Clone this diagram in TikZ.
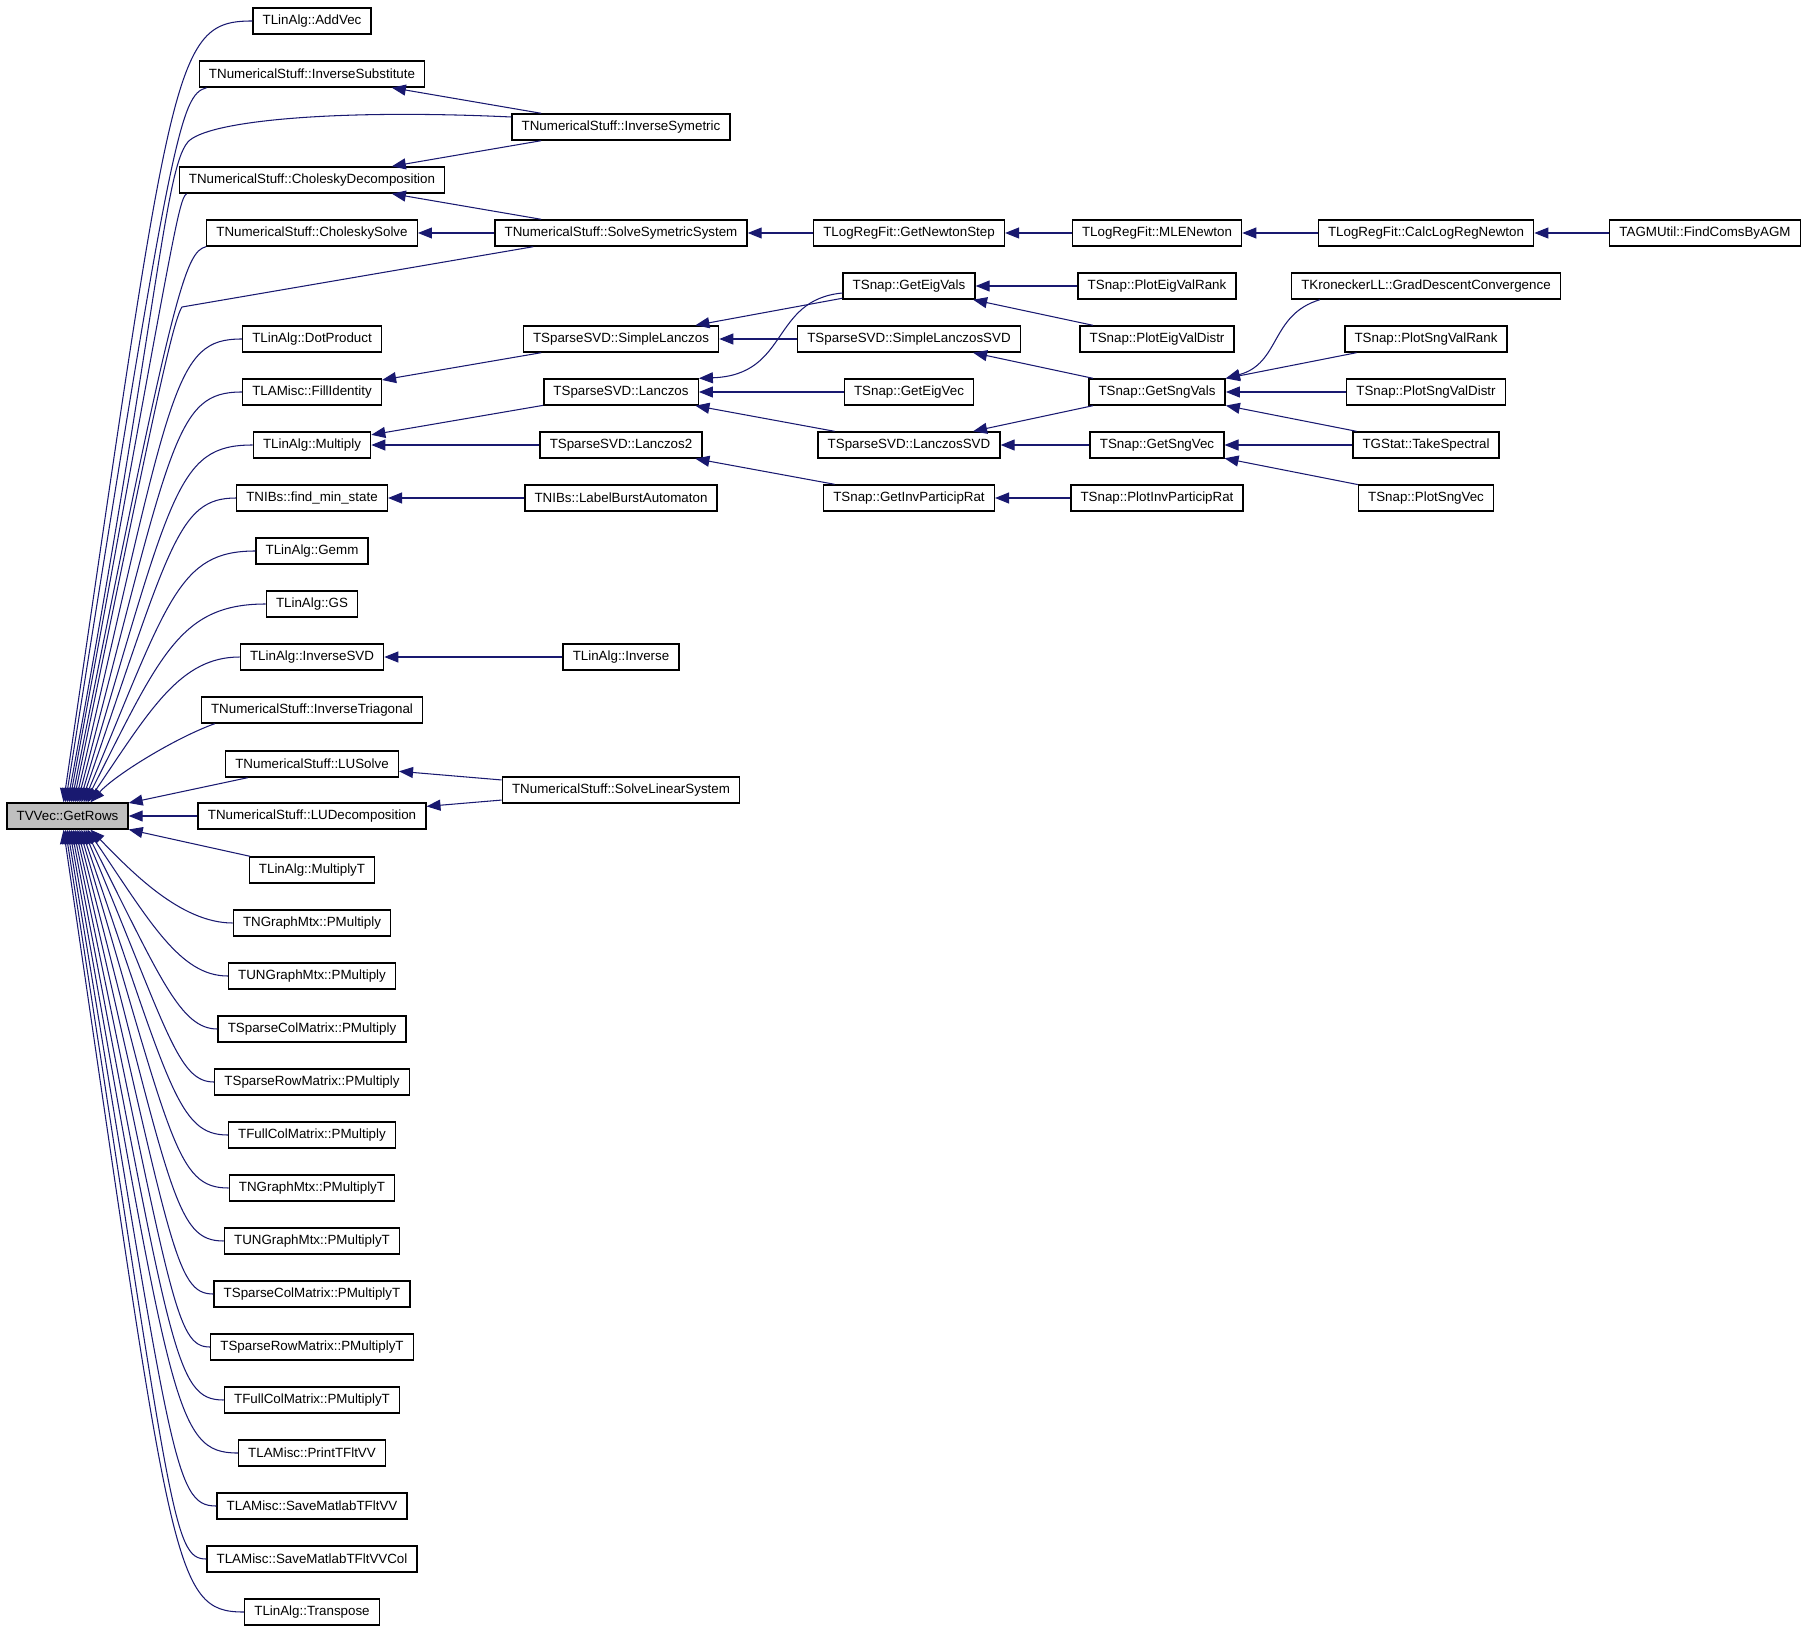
\documentclass[tikz,border=0pt]{standalone}
\usepackage{tikz}
\usepackage{fontspec}
\setmainfont{Liberation Sans}
\definecolor{edgeblue}{RGB}{25,25,112}
\definecolor{hlgray}{RGB}{191,191,191}
\usetikzlibrary{arrows.meta,calc}
\tikzset{
  fn/.style={rectangle,draw=black,fill=white,line width=0.8pt,
             inner xsep=5.5pt,inner ysep=0pt,minimum height=0.52cm,
             font=\fontsize{7.6}{9}\selectfont},
  hl/.style={fn,fill=hlgray},
  call/.style={-{Triangle[length=0.28cm,width=0.22cm]},draw=edgeblue,
               line width=0.6pt},
}
\begin{document}
\begin{tikzpicture}[x=0.02cm,y=-0.02cm]
\useasboundingbox (0,0) rectangle (1808,1635);

\node[hl] (getrows) at (67.5,816) {TVVec::GetRows};

\node[fn] (addvec) at (312,21) {TLinAlg::AddVec};
\node[fn] (invsubst) at (312,74) {TNumericalStuff::InverseSubstitute};
\node[fn] (choldecomp) at (312,180) {TNumericalStuff::CholeskyDecomposition};
\node[fn] (cholsolve) at (312,233) {TNumericalStuff::CholeskySolve};
\node[fn] (dotproduct) at (312,339) {TLinAlg::DotProduct};
\node[fn] (fillidentity) at (312,392) {TLAMisc::FillIdentity};
\node[fn] (multiply) at (312,445) {TLinAlg::Multiply};
\node[fn] (findminstate) at (312,498) {TNIBs::find\_min\_state};
\node[fn] (gemm) at (312,551) {TLinAlg::Gemm};
\node[fn] (gs) at (312,604) {TLinAlg::GS};
\node[fn] (inversesvd) at (312,657) {TLinAlg::InverseSVD};
\node[fn] (invtriag) at (312,710) {TNumericalStuff::InverseTriagonal};
\node[fn] (lusolve) at (312,764) {TNumericalStuff::LUSolve};
\node[fn] (ludecomp) at (312,816) {TNumericalStuff::LUDecomposition};
\node[fn] (multiplyt) at (312,870) {TLinAlg::MultiplyT};
\node[fn] (ngpmul) at (312,923) {TNGraphMtx::PMultiply};
\node[fn] (ungpmul) at (312,976) {TUNGraphMtx::PMultiply};
\node[fn] (spcpmul) at (312,1029) {TSparseColMatrix::PMultiply};
\node[fn] (sprpmul) at (312,1082) {TSparseRowMatrix::PMultiply};
\node[fn] (fcpmul) at (312,1135) {TFullColMatrix::PMultiply};
\node[fn] (ngpmult) at (312,1188) {TNGraphMtx::PMultiplyT};
\node[fn] (ungpmult) at (312,1241) {TUNGraphMtx::PMultiplyT};
\node[fn] (spcpmult) at (312,1294) {TSparseColMatrix::PMultiplyT};
\node[fn] (sprpmult) at (312,1347) {TSparseRowMatrix::PMultiplyT};
\node[fn] (fcpmult) at (312,1400) {TFullColMatrix::PMultiplyT};
\node[fn] (printvv) at (312,1453) {TLAMisc::PrintTFltVV};
\node[fn] (savevv) at (312,1506) {TLAMisc::SaveMatlabTFltVV};
\node[fn] (savevvcol) at (312,1559) {TLAMisc::SaveMatlabTFltVVCol};
\node[fn] (transpose) at (312,1612) {TLinAlg::Transpose};

\node[fn] (invsym) at (621,127) {TNumericalStuff::InverseSymetric};
\node[fn] (solvesym) at (621,233) {TNumericalStuff::SolveSymetricSystem};
\node[fn] (simplelanczos) at (621,339) {TSparseSVD::SimpleLanczos};
\node[fn] (lanczos) at (621,392) {TSparseSVD::Lanczos};
\node[fn] (lanczos2) at (621,445) {TSparseSVD::Lanczos2};
\node[fn] (labelburst) at (621,498) {TNIBs::LabelBurstAutomaton};
\node[fn] (inverse) at (621,657) {TLinAlg::Inverse};
\node[fn] (solvelin) at (621,790) {TNumericalStuff::SolveLinearSystem};

\node[fn] (newtonstep) at (909,233) {TLogRegFit::GetNewtonStep};
\node[fn] (geteigvals) at (909,286) {TSnap::GetEigVals};
\node[fn] (simplelanczossvd) at (909,339) {TSparseSVD::SimpleLanczosSVD};
\node[fn] (geteigvec) at (909,392) {TSnap::GetEigVec};
\node[fn] (lanczossvd) at (909,445) {TSparseSVD::LanczosSVD};
\node[fn] (getinvpr) at (909,498) {TSnap::GetInvParticipRat};

\node[fn] (mlenewton) at (1157,233) {TLogRegFit::MLENewton};
\node[fn] (ploteigrank) at (1157,286) {TSnap::PlotEigValRank};
\node[fn] (ploteigdistr) at (1157,339) {TSnap::PlotEigValDistr};
\node[fn] (getsngvals) at (1157,392) {TSnap::GetSngVals};
\node[fn] (getsngvec) at (1157,445) {TSnap::GetSngVec};
\node[fn] (plotinvpr) at (1157,498) {TSnap::PlotInvParticipRat};

\node[fn] (calclogreg) at (1426,233) {TLogRegFit::CalcLogRegNewton};
\node[fn] (graddescent) at (1426,286) {TKroneckerLL::GradDescentConvergence};
\node[fn] (plotsngrank) at (1426,339) {TSnap::PlotSngValRank};
\node[fn] (plotsngdistr) at (1426,392) {TSnap::PlotSngValDistr};
\node[fn] (takespectral) at (1426,445) {TGStat::TakeSpectral};
\node[fn] (plotsngvec) at (1426,498) {TSnap::PlotSngVec};

\node[fn] (findcoms) at (1705,233) {TAGMUtil::FindComsByAGM};

\draw[call] (addvec.west) .. controls (172,21) and (172,62) .. ($(getrows.north)+(-4,0)$);
\draw[call] ($(invsubst.south west)+(8,0)$) .. controls (180,95) and (172,130) .. ($(getrows.north)+(-2,0)$);
\draw[call] ($(invsym.west)+(0,-10)$) .. controls (341,109) and (215,120) .. (190,140) .. controls (165,160) and (160,301) .. (getrows.north);
\draw[call] ($(choldecomp.south west)+(8,0)$) .. controls (178,200) and (173,240) .. ($(getrows.north)+(2,0)$);
\draw[call] (cholsolve.south west) .. controls (185,252) and (173,290) .. ($(getrows.north)+(4,0)$);
\draw[call] ($(solvesym.south west)+(39,0)$) -- (182,307) .. controls (172,322) and (150,430) .. ($(getrows.north)+(6,0)$);
\draw[call] (dotproduct.west) .. controls (174,339) and (172,385) .. ($(getrows.north)+(8,0)$);
\draw[call] (fillidentity.west) .. controls (175,392) and (172,440) .. ($(getrows.north)+(10,0)$);
\draw[call] (multiply.west) .. controls (176,445) and (172,492) .. ($(getrows.north)+(12,0)$);
\draw[call] (findminstate.west) .. controls (178,498) and (170,545) .. ($(getrows.north)+(14,0)$);
\draw[call] (gemm.west) .. controls (178,551) and (168,600) .. ($(getrows.north)+(16,0)$);
\draw[call] (gs.west) .. controls (180,604) and (160,655) .. ($(getrows.north)+(18,0)$);
\draw[call] (inversesvd.west) .. controls (180,657) and (150,710) .. ($(getrows.north)+(20,0)$);
\draw[call] ($(invtriag.south west)+(14,0)$) .. controls (175,738) and (115,775) .. ($(getrows.north)+(23,0)$);
\draw[call] (lusolve) -- (getrows);
\draw[call] (ludecomp) -- (getrows);
\draw[call] (multiplyt) -- (getrows);
\draw[call] (ngpmul.west) .. controls (180,923) and (130,870) .. ($(getrows.south)+(23,0)$);
\draw[call] (ungpmul.west) .. controls (180,976) and (150,922) .. ($(getrows.south)+(20,0)$);
\draw[call] (spcpmul.west) .. controls (180,1029) and (160,977) .. ($(getrows.south)+(18,0)$);
\draw[call] (sprpmul.west) .. controls (178,1082) and (168,1032) .. ($(getrows.south)+(16,0)$);
\draw[call] (fcpmul.west) .. controls (178,1135) and (170,1087) .. ($(getrows.south)+(14,0)$);
\draw[call] (ngpmult.west) .. controls (176,1188) and (172,1141) .. ($(getrows.south)+(12,0)$);
\draw[call] (ungpmult.west) .. controls (175,1241) and (172,1194) .. ($(getrows.south)+(10,0)$);
\draw[call] (spcpmult.west) .. controls (175,1294) and (172,1247) .. ($(getrows.south)+(8,0)$);
\draw[call] (sprpmult.west) .. controls (175,1347) and (172,1300) .. ($(getrows.south)+(6,0)$);
\draw[call] (fcpmult.west) .. controls (174,1400) and (172,1353) .. ($(getrows.south)+(4,0)$);
\draw[call] (printvv.west) .. controls (174,1453) and (172,1406) .. ($(getrows.south)+(2,0)$);
\draw[call] (savevv.west) .. controls (173,1506) and (172,1460) .. (getrows.south);
\draw[call] (savevvcol.west) .. controls (172,1559) and (172,1515) .. ($(getrows.south)+(-2,0)$);
\draw[call] (transpose.west) .. controls (172,1612) and (172,1570) .. ($(getrows.south)+(-4,0)$);

\draw[call] (invsym) -- (invsubst);
\draw[call] (invsym) -- (choldecomp);
\draw[call] (solvesym) -- (choldecomp);
\draw[call] (solvesym) -- (cholsolve);
\draw[call] (simplelanczos) -- (fillidentity);
\draw[call] (lanczos) -- (multiply);
\draw[call] (lanczos2) -- (multiply);
\draw[call] (labelburst) -- (findminstate);
\draw[call] (inverse) -- (inversesvd);
\draw[call] (solvelin) -- (lusolve);
\draw[call] (solvelin) -- (ludecomp);

\draw[call] (newtonstep) -- (solvesym);
\draw[call] (geteigvals) -- (simplelanczos);
\draw[call] (simplelanczossvd) -- (simplelanczos);
\draw[call] ($(geteigvals.west)+(0,7)$) .. controls (770,300) and (790,375) .. (lanczos.north east);
\draw[call] (geteigvec) -- (lanczos);
\draw[call] (lanczossvd) -- (lanczos);
\draw[call] (getinvpr) -- (lanczos2);

\draw[call] (mlenewton) -- (newtonstep);
\draw[call] (ploteigrank) -- (geteigvals);
\draw[call] (ploteigdistr) -- (geteigvals);
\draw[call] (getsngvals) -- (simplelanczossvd);
\draw[call] (getsngvals) -- (lanczossvd);
\draw[call] (getsngvec) -- (lanczossvd);
\draw[call] (plotinvpr) -- (getinvpr);

\draw[call] (calclogreg) -- (mlenewton);
\draw[call] ($(graddescent.south west)+(29,0)$) .. controls +(-50,15) and +(55,-15) .. (getsngvals.north east);
\draw[call] (plotsngrank) -- (getsngvals);
\draw[call] (plotsngdistr) -- (getsngvals);
\draw[call] (takespectral) -- (getsngvals);
\draw[call] (takespectral) -- (getsngvec);
\draw[call] (plotsngvec) -- (getsngvec);

\draw[call] (findcoms) -- (calclogreg);
\end{tikzpicture}
\end{document}
